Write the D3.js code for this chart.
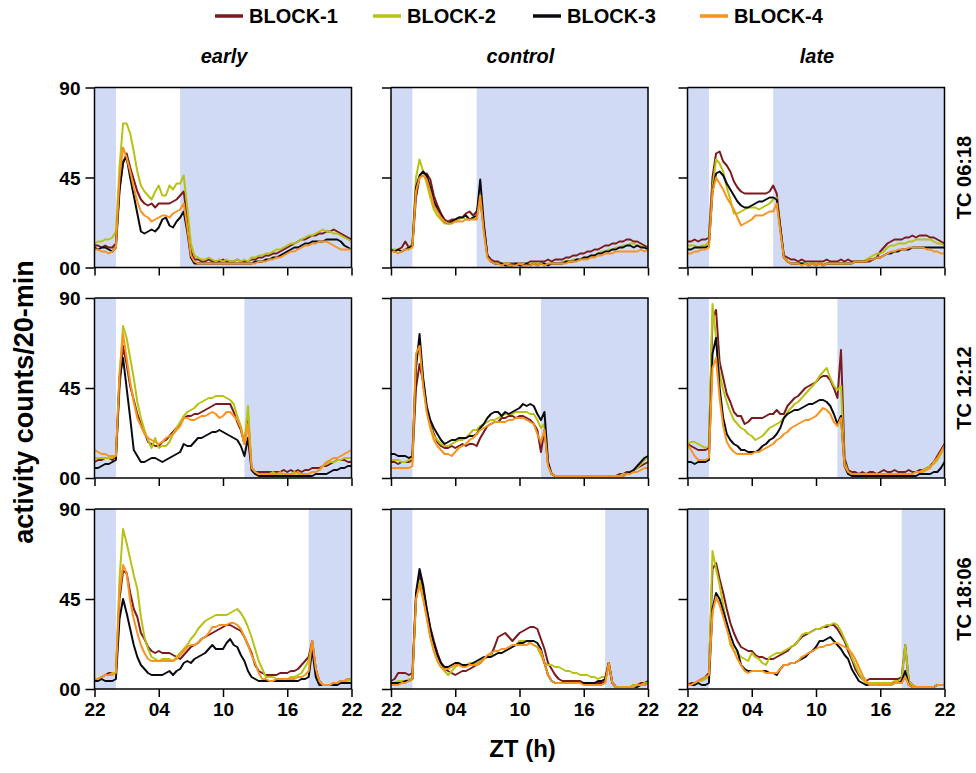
<!DOCTYPE html>
<html><head><meta charset="utf-8">
<script src="https://cdn.jsdelivr.net/npm/d3@7"></script>
<style>
body{margin:0;background:#fff}
svg{display:block}
text{font-family:"Liberation Sans",Arial,Helvetica,sans-serif;font-weight:bold;fill:#000}
</style>
</head><body>
<svg id="chart" width="976" height="773"></svg>
<script>
// Series names and colours
const blocks = ["BLOCK-1", "BLOCK-2", "BLOCK-3", "BLOCK-4"];
const blockColors = ["#7b1a1f", "#b7c213", "#0a0a12", "#f7931e"];

// Panel grid: columns = phase of temperature cycle, rows = TC regime
const columns = ["early", "control", "late"];
const rowLabels = ["TC 06:18", "TC 12:12", "TC 18:06"];
// lights-off time (ZT) per row; lights on at ZT0
const lightsOn = 0;
const lightsOff = [6, 12, 18];

// axis ticks
const xTickHours = [0, 6, 12, 18, 24];         // hours after ZT22
const xTickLabels = ["22", "04", "10", "16", "22"];
const yTickValues = [0, 45, 90];
const yTickLabels = ["00", "45", "90"];

// Activity counts per 20-min bin, ZT22 -> ZT22 (73 samples)
// row 1: TC 06:18
const early0618_b1 = [11,11,10,11,10,10, 12,40,52,57,50,44, 38,34,32,31,32,30, 32,32,32,32,33,34, 36,38,24,8,4,4, 3,3,4,3,3,3, 4,3,3,3,4,3, 3,3,4,4,5,5, 6,6,7,7,8,9, 10,11,12,13,14,14, 15,16,16,17,17,18, 18,19,18,17,16,15, 14];
const early0618_b2 = [12,13,13,14,14,15, 18,50,72,72,67,58, 48,41,38,36,34,38, 41,36,36,41,39,42, 42,46,30,12,6,5, 4,4,5,4,3,4, 3,4,3,3,4,3, 4,3,5,5,6,6, 7,7,8,9,9,10, 11,12,12,13,14,15, 16,16,17,18,19,18, 18,17,17,16,15,14, 13];
const early0618_b3 = [10,9,10,10,9,8, 10,38,53,55,45,36, 27,18,17,18,19,18, 20,24,25,21,20,23, 25,28,18,5,2,2, 2,2,2,2,2,2, 2,2,2,2,2,2, 2,2,2,3,3,3, 4,4,5,5,6,7, 8,9,10,10,11,12, 12,13,13,13,13,14, 14,14,14,13,11,10, 9];
const early0618_b4 = [9,9,8,8,7,8, 10,45,60,55,48,40, 33,28,26,25,23,24, 25,26,26,25,27,28, 29,32,20,6,3,2, 2,2,2,2,2,2, 2,2,2,2,2,2, 2,2,2,2,3,3, 3,4,4,5,5,6, 7,8,8,9,10,11, 11,12,12,13,13,13, 12,11,10,9,9,9, 9];

const control0618_b1 = [9,8,9,10,13,10, 11,35,45,46,47,44, 36,31,27,24,23,24, 24,25,25,27,28,26, 28,34,20,6,4,3, 3,2,2,2,2,2, 2,2,2,3,3,3, 3,3,4,3,4,4, 4,5,5,6,6,7, 7,8,8,9,9,10, 11,11,12,12,13,13, 14,14,13,13,12,11, 10];
const control0618_b2 = [9,9,9,8,9,10, 12,45,54,48,42,35, 29,26,24,22,22,22, 23,24,25,24,24,25, 24,36,18,5,3,2, 2,2,2,2,1,2, 1,2,1,2,2,2, 2,1,2,2,2,2, 3,3,3,4,4,4, 5,5,6,6,7,8, 8,9,9,10,10,11, 11,12,12,11,11,10, 9];
const control0618_b3 = [9,8,9,8,9,10, 11,40,46,48,46,40, 33,29,26,23,22,23, 24,25,25,26,24,25, 26,44,22,6,3,2, 2,2,1,1,1,2, 1,1,2,1,2,1, 2,2,1,2,2,2, 2,3,3,3,4,4, 5,5,6,6,7,7, 8,8,9,9,10,10, 11,11,10,11,10,10, 9];
const control0618_b4 = [8,8,7,8,9,9, 10,38,45,46,44,38, 31,28,25,23,22,22, 23,23,23,24,24,24, 24,36,18,5,3,2, 2,1,2,1,1,1, 2,1,1,1,2,1, 2,1,2,2,2,2, 2,2,3,3,3,4, 4,4,5,5,6,6, 7,7,7,8,8,8, 8,8,8,8,9,8, 9];

const late0618_b1 = [13,13,14,13,14,14, 15,45,57,58,53,51, 48,43,40,38,37,37, 37,37,37,37,37,38, 41,37,20,6,5,4, 4,3,4,3,3,3, 3,3,3,4,3,3, 3,4,3,4,3,3, 3,3,3,3,4,5, 8,10,12,13,14,14, 14,15,15,16,15,16, 16,16,15,15,14,13, 12];
const late0618_b2 = [11,11,11,10,11,11, 13,40,54,52,48,40, 34,27,27,28,29,30, 30,30,29,30,31,32, 34,35,20,5,3,2, 2,2,2,2,2,2, 2,2,2,2,2,2, 2,2,2,2,2,3, 3,3,4,5,6,7, 7,8,10,11,11,12, 12,12,13,13,14,14, 14,14,14,13,12,12, 11];
const late0618_b3 = [9,9,10,10,10,10, 11,38,47,48,46,42, 39,36,33,31,30,30, 31,32,33,33,34,35, 35,34,20,5,3,2, 2,2,2,2,1,2, 1,2,1,2,2,2, 2,2,2,2,2,3, 3,3,3,4,4,5, 5,6,7,7,8,8, 9,9,9,10,10,10, 10,10,10,10,10,10, 10];
const late0618_b4 = [7,7,8,8,9,9, 10,38,45,42,39,35, 32,29,25,21,22,23, 24,26,26,26,27,28, 28,32,18,5,3,2, 2,2,1,2,1,2, 1,2,1,2,2,2, 2,2,2,2,2,3, 3,3,3,4,4,5, 5,6,7,8,8,9, 9,9,10,10,10,10, 10,9,9,8,8,7, 7];

// row 2: TC 12:12
const early1212_b1 = [8,9,9,10,10,9, 11,45,66,57,46,39, 32,27,23,18,17,16, 16,18,19,21,23,25, 27,30,31,31,32,32, 33,34,35,36,37,37, 37,37,37,33,28,24, 17,31,5,3,3,3, 3,3,3,3,3,4, 3,4,3,4,3,4, 4,5,5,5,6,6, 7,8,9,9,9,8, 8];
const early1212_b2 = [10,10,10,10,10,10, 11,50,76,70,60,50, 38,30,24,19,15,20, 15,16,16,18,22,25, 28,31,33,34,35,37, 38,39,40,40,41,41, 41,40,39,37,31,26, 17,36,5,3,2,2, 2,2,3,2,2,2, 2,2,3,2,2,2, 2,3,3,4,6,7, 8,8,9,9,10,10, 10];
const early1212_b3 = [5,5,6,7,7,8, 9,50,60,45,30,14, 11,8,8,9,10,10, 9,8,9,10,11,12, 13,17,16,16,18,20, 20,21,22,23,23,24, 23,22,21,20,19,16, 11,20,4,2,1,1, 1,1,1,1,1,1, 1,1,1,1,1,1, 1,1,2,2,2,2, 3,4,4,5,5,6, 6];
const early1212_b4 = [14,13,12,12,11,11, 11,52,72,60,48,38, 30,26,22,20,19,18, 17,18,20,21,22,24, 26,30,30,29,29,30, 31,31,32,33,32,30, 31,33,33,31,29,25, 17,27,5,3,2,2, 2,2,2,2,3,2, 2,2,2,3,2,2, 2,3,3,4,6,8, 9,10,10,11,12,13, 14];

const control1212_b1 = [8,8,7,8,8,8, 9,45,57,48,35,27, 22,18,16,15,15,16, 15,16,17,16,17,17, 16,20,23,26,27,28, 28,30,30,31,31,30, 31,31,30,29,27,24, 13,24,7,2,1,1, 1,1,1,1,1,1, 1,1,1,1,1,1, 1,1,1,1,2,2, 3,3,4,5,6,7, 8];
const control1212_b2 = [9,9,9,8,8,9, 10,60,68,47,34,26, 21,19,17,16,16,17, 18,19,19,20,22,24, 24,26,27,28,29,29, 30,31,32,32,32,33, 33,33,33,32,32,29, 25,27,6,2,1,1, 1,1,1,1,1,1, 1,1,1,1,1,1, 1,1,1,1,1,2, 2,3,4,5,7,9, 10];
const control1212_b3 = [12,12,11,11,11,10, 11,55,72,50,36,29, 25,22,19,17,18,19, 19,20,20,20,21,21, 22,25,27,30,32,33, 33,31,33,32,33,34, 35,37,36,37,36,32, 29,33,8,2,1,1, 1,1,1,1,1,1, 1,1,1,1,1,1, 1,1,1,1,1,1, 2,3,4,6,8,10, 11];
const control1212_b4 = [5,5,5,5,5,5, 6,62,66,46,33,25, 19,16,14,12,12,11, 13,15,16,17,19,20, 22,24,25,26,27,28, 28,28,28,29,29,30, 30,30,29,28,27,22, 18,24,6,2,1,1, 1,1,1,1,1,1, 1,1,1,1,1,1, 1,1,1,1,1,1, 2,2,3,3,4,5, 5];

const late1212_b1 = [17,16,15,14,14,14, 15,80,84,58,50,42, 38,33,31,31,27,28, 30,30,30,30,31,32, 32,34,32,32,36,38, 40,41,43,45,46,47, 48,50,51,51,49,45, 40,64,10,4,3,3, 2,3,2,3,3,2, 3,4,3,3,4,3, 3,3,4,3,3,4, 4,5,6,8,11,14, 17];
const late1212_b2 = [17,18,18,17,16,15, 16,87,70,52,44,38, 33,29,27,25,24,22, 21,19,20,21,23,25, 26,27,28,30,33,35, 37,38,40,42,44,46, 48,51,53,55,50,46, 44,46,8,3,2,2, 2,2,2,2,2,2, 2,2,2,2,2,2, 2,2,2,2,3,3, 4,5,6,7,9,12, 16];
const late1212_b3 = [8,8,7,8,8,8, 9,62,70,45,30,22, 19,17,16,14,14,13, 13,13,14,16,17,19, 20,22,25,30,32,33, 34,34,35,36,37,37, 38,39,39,38,36,32, 27,31,6,2,1,1, 1,1,1,1,1,1, 1,1,1,1,1,1, 1,1,1,1,1,2, 2,2,2,3,3,5, 8];
const late1212_b4 = [17,14,11,9,9,9, 10,55,60,40,26,18, 15,13,12,12,12,12, 12,13,13,14,15,16, 17,19,20,22,23,25, 26,27,28,29,29,30, 31,33,35,34,32,28, 26,30,6,3,2,2, 2,2,2,2,2,2, 2,2,2,2,2,2, 2,2,2,2,3,3, 3,4,5,8,10,13, 16];

// row 3: TC 18:06
const early1806_b1 = [4,5,6,7,8,8, 8,45,59,58,48,40, 36,28,25,21,19,18, 19,18,18,18,17,16, 15,17,19,21,22,23, 25,26,27,28,29,30, 31,32,32,31,30,29, 26,22,18,12,9,8, 7,7,7,7,8,8, 8,9,9,10,12,14, 16,24,10,4,2,2, 2,3,3,4,4,5, 5];
const early1806_b2 = [4,5,6,7,7,8, 8,55,80,73,65,57, 50,36,26,20,16,15, 14,15,15,15,14,16, 18,20,22,25,27,30, 32,34,35,36,37,37, 37,37,38,39,40,38, 35,31,26,20,14,10, 6,6,6,5,5,5, 5,6,6,7,8,11, 14,23,8,3,2,2, 2,2,3,3,4,4, 5];
const early1806_b3 = [4,4,5,4,4,4, 5,35,45,38,30,22, 16,12,10,8,7,7, 7,7,8,9,7,9, 10,13,14,13,15,16, 17,18,20,22,20,20, 20,23,25,22,21,17, 14,9,6,5,4,4, 4,4,4,4,4,4, 4,4,4,4,5,5, 6,20,6,2,2,2, 2,2,2,3,3,3, 3];
const early1806_b4 = [5,5,6,7,7,7, 8,48,62,58,44,35, 28,22,18,15,14,14, 14,14,14,14,14,15, 17,19,21,22,22,23, 25,26,28,31,31,32, 32,32,33,33,32,30, 26,22,17,13,8,5, 5,4,4,5,5,5, 5,5,5,6,6,7, 9,24,10,4,2,2, 2,3,3,4,4,5, 5];

const control1806_b1 = [4,5,8,8,8,7, 8,45,58,50,40,31, 24,18,13,10,9,8, 7,8,9,9,10,11, 12,13,15,16,17,21, 26,27,28,26,24,26, 28,29,30,31,31,30, 25,20,13,10,7,5, 4,4,4,4,4,4, 3,3,3,3,3,3, 4,13,3,1,1,1, 1,1,2,2,3,3, 4];
const control1806_b2 = [3,3,4,4,4,5, 5,45,54,46,36,26, 19,14,11,9,7,9, 11,12,12,12,13,13, 13,14,15,16,17,17, 18,18,19,20,21,22, 24,24,24,23,22,21, 17,13,12,12,11,11, 10,9,9,8,8,7, 7,7,6,6,5,6, 6,13,3,1,1,1, 1,1,2,2,2,3, 3];
const control1806_b3 = [3,3,3,3,4,4, 5,48,60,52,40,30, 23,17,13,11,11,12, 13,13,12,12,12,13, 14,15,16,16,16,17, 18,18,19,20,21,22, 23,23,24,24,24,23, 20,13,7,4,3,3, 3,3,3,3,3,3, 3,3,3,3,4,4, 5,13,3,1,1,1, 1,1,1,1,2,2, 3];
const control1806_b4 = [2,2,2,3,3,4, 5,45,52,45,36,26, 19,14,11,10,10,11, 12,12,11,11,12,12, 12,13,15,17,18,19, 19,20,20,21,22,22, 22,22,22,23,22,21, 19,13,7,4,3,3, 3,3,3,3,3,3, 2,2,2,2,2,2, 3,13,3,1,1,1, 1,1,1,2,2,2, 3];

const late1806_b1 = [2,3,3,4,5,6, 8,60,63,55,48,40, 33,28,24,21,20,19, 19,17,16,16,15,15, 15,16,17,18,19,21, 22,24,26,27,28,29, 30,30,31,31,32,32, 30,27,24,19,15,10, 7,5,4,5,5,5, 5,5,5,5,5,5, 6,22,4,2,1,1, 1,1,1,1,2,2, 2];
const late1806_b2 = [2,2,3,4,4,5, 6,69,60,52,42,32, 22,19,18,16,15,14, 18,16,15,13,12,16, 17,18,18,19,20,21, 22,24,27,28,28,29, 30,30,31,32,32,33, 32,29,25,21,16,12, 8,5,3,3,3,3, 3,3,3,3,4,4, 5,22,4,2,1,1, 1,1,1,1,2,2, 2];
const late1806_b3 = [2,2,2,3,2,2, 3,40,48,45,39,33, 27,22,19,12,10,9, 9,9,9,9,9,8, 8,7,10,12,12,13, 13,14,15,16,18,19, 21,24,24,25,26,24, 22,20,17,15,10,7, 4,3,2,2,2,2, 2,2,2,2,3,3, 4,9,2,1,1,1, 1,1,1,1,2,2, 2];
const late1806_b4 = [2,2,3,4,5,6, 7,38,46,42,36,30, 24,19,15,12,9,8, 9,9,9,9,8,8, 8,8,10,12,12,13, 13,14,16,17,18,19, 20,21,21,22,22,23, 23,22,21,20,18,15, 11,7,4,2,2,2, 2,2,2,2,3,3, 3,6,2,1,1,1, 1,1,1,1,2,2, 2];

// panel table: [row][column] -> four series
const panelSeries = [
  [[early0618_b1, early0618_b2, early0618_b3, early0618_b4],
   [control0618_b1, control0618_b2, control0618_b3, control0618_b4],
   [late0618_b1, late0618_b2, late0618_b3, late0618_b4]],
  [[early1212_b1, early1212_b2, early1212_b3, early1212_b4],
   [control1212_b1, control1212_b2, control1212_b3, control1212_b4],
   [late1212_b1, late1212_b2, late1212_b3, late1212_b4]],
  [[early1806_b1, early1806_b2, early1806_b3, early1806_b4],
   [control1806_b1, control1806_b2, control1806_b3, control1806_b4],
   [late1806_b1, late1806_b2, late1806_b3, late1806_b4]]
];

// ---- layout ----
const svg = d3.select("#chart");
const panelW = 257, panelH = 180;
const colX = [94.5, 391, 687.5];
const rowY = [87.5, 298, 509];
const shadeColor = "#d0daf5";

const x = d3.scaleLinear().domain([0, 24]).range([0, panelW]);
const y = d3.scaleLinear().domain([0, 90]).range([panelH, 0]);
const ztToHours = zt => ((zt - 22) % 24 + 24) % 24;

const line = d3.line()
  .x(d => x(d.t))
  .y(d => y(d.v))
  .curve(d3.curveLinear);

rowLabels.forEach((rl, r) => {
  columns.forEach((cl, c) => {
    const g = svg.append("g").attr("transform", `translate(${colX[c]},${rowY[r]})`);

    // dark-phase shading: ZT22 -> lights on, lights off -> ZT22
    const on = ztToHours(lightsOn), off = ztToHours(lightsOff[r]);
    [[0, on], [off, 24]].forEach(([a, b]) => {
      g.append("rect")
        .attr("x", x(a)).attr("y", 0)
        .attr("width", x(b) - x(a)).attr("height", panelH)
        .attr("fill", shadeColor);
    });

    // activity traces
    panelSeries[r][c].forEach((vals, k) => {
      const n = vals.length;
      const pts = vals.map((v, i) => ({ t: i * 24 / (n - 1), v }));
      g.append("path")
        .datum(pts)
        .attr("d", line)
        .attr("fill", "none")
        .attr("stroke", blockColors[k])
        .attr("stroke-width", 2)
        .attr("stroke-linejoin", "round");
    });

    // frame: top and right borders
    g.append("path")
      .attr("d", `M0,0H${panelW}V${panelH}`)
      .attr("fill", "none").attr("stroke", "#000").attr("stroke-width", 1.5);

    // left axis
    const yAxis = d3.axisLeft(y).tickValues(yTickValues).tickSize(9)
      .tickFormat((d, i) => c === 0 ? yTickLabels[i] : "");
    const ya = g.append("g").call(yAxis);
    ya.select(".domain").attr("stroke-width", 1.5).attr("d", `M0,0V${panelH}`);
    ya.selectAll(".tick line").attr("stroke-width", 1.5);
    ya.selectAll("text").attr("font-size", 19).attr("font-weight", "bold")
      .attr("font-family", '"Liberation Sans", Arial, sans-serif').attr("x", -14).attr("dy", "0.36em");

    // bottom axis
    const xAxis = d3.axisBottom(x).tickValues(xTickHours).tickSize(8)
      .tickFormat((d, i) => r === 2 ? xTickLabels[i] : "");
    const xa = g.append("g").attr("transform", `translate(0,${panelH})`).call(xAxis);
    xa.select(".domain").attr("stroke-width", 1.5).attr("d", `M0,0H${panelW}`);
    xa.selectAll(".tick line").attr("stroke-width", 1.5);
    xa.selectAll("text").attr("font-size", 19).attr("font-weight", "bold")
      .attr("font-family", '"Liberation Sans", Arial, sans-serif').attr("y", 14).attr("dy", "0.71em");
  });

  // row label on the right
  const cy = rowY[r] + panelH / 2;
  svg.append("text")
    .attr("transform", `translate(971,${cy}) rotate(-90)`)
    .attr("text-anchor", "middle")
    .attr("font-size", 20)
    .text(rl);
});

// column titles
columns.forEach((cl, c) => {
  svg.append("text")
    .attr("x", colX[c] + panelW / 2 + 1).attr("y", 63)
    .attr("text-anchor", "middle")
    .attr("font-size", 20).attr("font-style", "italic")
    .text(cl);
});

// axis titles
svg.append("text")
  .attr("x", colX[1] + panelW / 2 + 3).attr("y", 757)
  .attr("text-anchor", "middle").attr("font-size", 24)
  .text("ZT (h)");
svg.append("text")
  .attr("transform", `translate(33,402) rotate(-90)`)
  .attr("text-anchor", "middle").attr("font-size", 27)
  .text("activity counts/20-min");

// legend
const legendX = [215, 373, 533, 700];
const lg = svg.append("g");
blocks.forEach((b, k) => {
  lg.append("line")
    .attr("x1", legendX[k]).attr("x2", legendX[k] + 28)
    .attr("y1", 16).attr("y2", 16)
    .attr("stroke", blockColors[k]).attr("stroke-width", 3.5);
  lg.append("text")
    .attr("x", legendX[k] + 34).attr("y", 23)
    .attr("font-size", 20)
    .text(b);
});
</script>
</body></html>
